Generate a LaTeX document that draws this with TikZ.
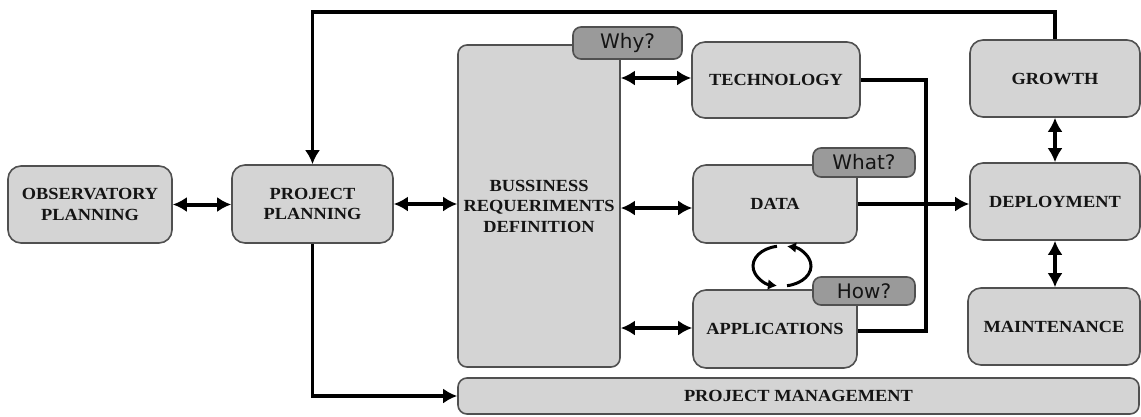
\documentclass[tikz,border=0pt]{standalone}
\usepackage{fontspec}
\newfontfamily\boxfont[FakeStretch=1.08]{Liberation Serif}
\newfontfamily\tagfont{DejaVu Sans}
\usetikzlibrary{arrows.meta,calc}
\definecolor{boxfill}{HTML}{D4D4D4}
\definecolor{boxline}{HTML}{505050}
\definecolor{tagfill}{HTML}{9A9A9A}
\definecolor{txt}{HTML}{141414}
\tikzset{
  box/.style={draw=boxline, fill=boxfill, line width=1.6pt, rounded corners=13pt,
    align=center, inner sep=0pt, text=txt,
    font=\boxfont\bfseries\fontsize{17}{20.5}\selectfont},
  tagbox/.style={draw=boxline, fill=tagfill, line width=1.6pt, rounded corners=8pt,
    inner sep=0pt, text=txt, font=\tagfont\fontsize{20}{22}\selectfont},
  dbl/.style={line width=4pt, {Latex[length=14pt,width=15pt]}-{Latex[length=14pt,width=15pt]}},
  conn/.style={line width=3.5pt},
  onearrow/.style={line width=3.5pt, -{Latex[length=14pt,width=15pt]}},
  cyc/.style={line width=3pt, -{Latex[length=9pt,width=11pt]}}
}
\begin{document}
\begin{tikzpicture}[x=1pt,y=-1pt]
\useasboundingbox[fill=white] (0,0) rectangle (1141,416);

\node[box, minimum width=164pt, minimum height=77pt] (obs) at (90,204.5) {OBSERVATORY\\PLANNING};
\node[box, minimum width=161pt, minimum height=78pt] (pp) at (312.5,204) {PROJECT\\PLANNING};
\node[box, rounded corners=9pt, minimum width=162pt, minimum height=322pt] (brd) at (539,206) {BUSSINESS\\REQUERIMENTS\\DEFINITION};
\node[box, minimum width=168pt, minimum height=76pt] (tech) at (776,80) {TECHNOLOGY};
\node[box, minimum width=164pt, minimum height=78pt] (data) at (775,204) {DATA};
\node[box, minimum width=164pt, minimum height=78pt] (app) at (775,329) {APPLICATIONS};
\node[box, minimum width=170pt, minimum height=77pt] (growth) at (1055,78.5) {GROWTH};
\node[box, minimum width=170pt, minimum height=77pt] (deploy) at (1055,201.5) {DEPLOYMENT};
\node[box, minimum width=172pt, minimum height=77pt] (maint) at (1054,326.5) {MAINTENANCE};
\node[box, rounded corners=9pt, minimum width=681pt, minimum height=36pt] (pm) at (798.5,396) {PROJECT MANAGEMENT};

\node[tagbox, minimum width=109pt, minimum height=32pt] (why) at (627.5,43) {Why?};
\node[tagbox, minimum width=102pt, minimum height=29pt] (what) at (864,162.5) {What?};
\node[tagbox, minimum width=102pt, minimum height=28pt] (how) at (864,291) {How?};

\draw[dbl] (obs.east) -- (obs.east -| pp.west);
\draw[dbl] (pp.east) -- (pp.east -| brd.west);
\draw[dbl] ([yshift=2pt]tech.west -| brd.east) -- ([yshift=2pt]tech.west);
\draw[dbl] ([yshift=-4pt]data.west -| brd.east) -- ([yshift=-4pt]data.west);
\draw[dbl] ([yshift=1pt]app.west -| brd.east) -- ([yshift=1pt]app.west);
\draw[conn] (tech.east) -- ++(65,0) |- ([yshift=-2pt]app.east);
\draw[onearrow] (data.east) -- (data.east -| deploy.west);
\draw[dbl] (growth.south) -- (deploy.north);
\draw[dbl] (deploy.south) -- (deploy.south |- maint.north);
\draw[onearrow] (growth.north) -- ++(0,-27) -| (pp.north);
\draw[onearrow] (pp.south) |- (pm.west);

\coordinate (cc) at (782,266);
\draw[cyc] ($(cc)+(260:29 and 20)$) arc[start angle=260, end angle=100, x radius=29, y radius=20];
\draw[cyc] ($(cc)+(80:29 and 20)$) arc[start angle=80, end angle=-80, x radius=29, y radius=20];
\end{tikzpicture}
\end{document}
